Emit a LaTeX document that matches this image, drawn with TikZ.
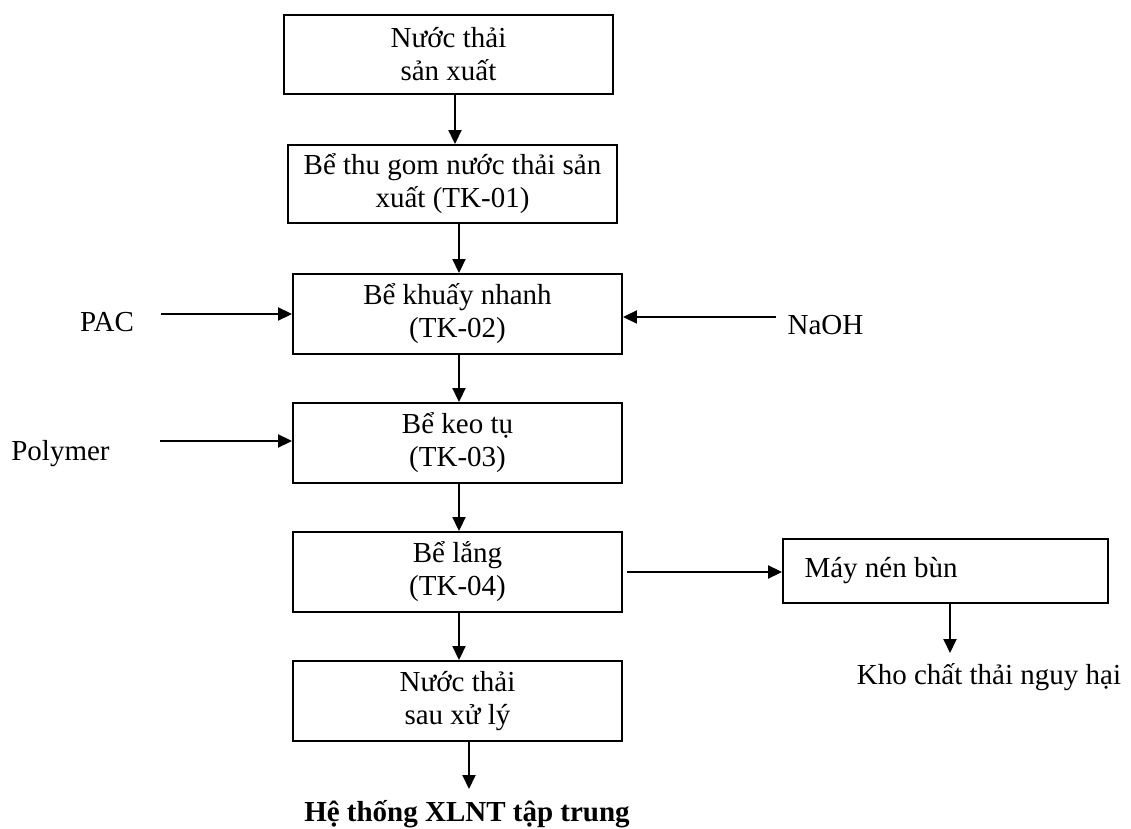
\documentclass[tikz,border=0pt]{standalone}
\usepackage{fontspec}
\setmainfont{Liberation Serif}
\usetikzlibrary{arrows.meta}
\begin{document}
\begin{tikzpicture}[x=0.5pt,y=-0.5pt,
  font=\fontsize{14.5}{16.5}\selectfont,
  box/.style={draw, line width=0.95pt, align=center, inner sep=0pt, minimum width=164.5pt, minimum height=40pt},
  arr/.style={line width=0.95pt, -{Triangle[length=7pt,width=6.5pt]}},
  lbl/.style={anchor=base, inner sep=0pt}]
\useasboundingbox (0,0) rectangle (1131,829);
% boxes
\node[box, minimum height=39.5pt] (b1) at (448.5,54.5) {Nước thải\\sản xuất};
\node[box, minimum height=39pt] (b2) at (452.5,184) {Bể thu gom nước thải sản\\xuất (TK-01)};
\node[box] (b3) at (457.5,314) {Bể khuấy nhanh\\(TK-02)};
\node[box] (b4) at (457.5,443) {Bể keo tụ\\(TK-03)};
\node[box] (b5) at (457.5,572) {Bể lắng\\(TK-04)};
\node[box] (b6) at (457.5,701) {Nước thải\\sau xử lý};
\node[box, minimum width=162.5pt, minimum height=32pt, align=flush left, text width=141pt, inner xsep=10.5pt] (mnb) at (945.5,571) {Máy nén bùn};
% labels
\node[lbl] (pac) at (107,331) {PAC};
\node[lbl] (poly) at (60.5,460) {Polymer};
\node[lbl] (naoh) at (825.5,334) {NaOH};
\node[lbl] (kho) at (989,684) {Kho chất thải nguy hại};
\node[lbl, font=\fontsize{14.5}{16.5}\selectfont\bfseries] (he) at (467,821) {Hệ thống XLNT tập trung};
% helper coordinates
\coordinate (x1) at (455,0);
\coordinate (x2) at (459,0);
\coordinate (x3) at (469,0);
\coordinate (x4) at (950,0);
\coordinate (pacS) at (161,314);
\coordinate (polyS) at (160,441);
\coordinate (naohS) at (776,317);
\coordinate (b5S) at (627,572);
\coordinate (outE) at (469,789);
\coordinate (khoE) at (950,653);
% connectors
\draw[arr] (b1.south -| x1) -- (b2.north -| x1);
\draw[arr] (b2.south -| x2) -- (b3.north -| x2);
\draw[arr] (b3.south -| x2) -- (b4.north -| x2);
\draw[arr] (b4.south -| x2) -- (b5.north -| x2);
\draw[arr] (b5.south -| x2) -- (b6.north -| x2);
\draw[arr] (b6.south -| x3) -- (outE);
\draw[arr] (pacS) -- (b3.west |- pacS);
\draw[arr] (polyS) -- (b4.west |- polyS);
\draw[arr] (naohS) -- (b3.east |- naohS);
\draw[arr] (b5S) -- (mnb.west |- b5S);
\draw[arr] (mnb.south -| x4) -- (khoE);
\end{tikzpicture}
\end{document}
